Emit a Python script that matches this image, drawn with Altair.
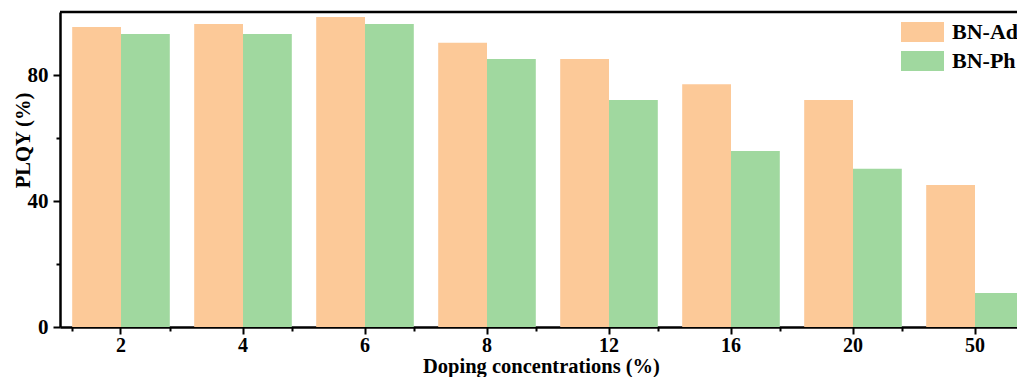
import altair as alt
import pandas as pd

concs = ["2", "4", "6", "8", "12", "16", "20", "50"]
bn_ad = [95.2, 96.2, 98.4, 90.2, 85.1, 77.1, 72.1, 45.1]
bn_ph = [93.0, 93.0, 96.2, 85.1, 72.1, 55.9, 50.2, 10.8]
series = ["BN-Ad", "BN-Ph"]
colors = ["#FCC998", "#A0D89F"]
y_major = [0, 40, 80]
y_minor = [20, 60]

rows = []
for c, a, p in zip(concs, bn_ad, bn_ph):
    rows.append({"conc": c, "series": "BN-Ad", "value": a})
    rows.append({"conc": c, "series": "BN-Ph", "value": p})
df = pd.DataFrame(rows)

W = 957        # visible plot width (page is cut at the right like the reference)
RANGE = 976    # full category range, partly beyond the visible edge
H = 315
FONT = "Liberation Serif"

xscale = alt.Scale(domain=concs, range=[0, RANGE], paddingInner=0.2, paddingOuter=0.1)
yscale = alt.Scale(domain=[0, 100], nice=False)

minor = alt.Chart(df).mark_bar(opacity=0, clip=True).encode(
    x=alt.X("conc:N", sort=concs, scale=xscale,
            axis=alt.Axis(title=None, labels=False, domain=False, tickBand="extent",
                          tickSize=4, orient="bottom")),
    y=alt.Y("value:Q", scale=yscale,
            axis=alt.Axis(title=None, labels=False, domain=False, values=y_minor,
                          tickSize=4, orient="left")),
)

bars = alt.Chart(df).mark_bar(clip=True).encode(
    x=alt.X("conc:N", sort=concs, scale=xscale,
            axis=alt.Axis(title="Doping concentrations (%)", orient="bottom", labelAngle=0,
                          tickSize=7, labelPadding=1, labelFontSize=20,
                          titleBaseline="alphabetic", titleY=45.5, titleX=481)),
    xOffset=alt.XOffset("series:N", sort=series, scale=alt.Scale(paddingInner=0, paddingOuter=0)),
    y=alt.Y("value:Q", scale=yscale,
            axis=alt.Axis(title="PLQY (%)", orient="left", values=y_major, tickSize=7,
                          labelPadding=5, titleX=-27, titleY=128)),
    color=alt.Color("series:N", scale=alt.Scale(domain=series, range=colors),
                    legend=alt.Legend(title=None, orient="none", legendX=851.5, legendY=9,
                                      symbolType="M-2.15,-1L2.15,-1L2.15,1L-2.15,1Z",
                                      symbolSize=400, symbolStrokeWidth=0, symbolOpacity=1,
                                      labelOffset=18.5, rowPadding=7, padding=0,
                                      labelFont=FONT, labelFontSize=22, labelFontWeight="bold",
                                      labelColor="black")),
)

top = alt.Chart(pd.DataFrame({"a": [0]})).mark_rule(color="black", strokeWidth=2.5).encode(
    y=alt.value(0), x=alt.value(0), x2=alt.value(W)
)

chart = alt.layer(minor, bars, top).resolve_axis(x="independent", y="independent").properties(
    width=W, height=H,
    autosize=alt.AutoSizeParams(type="none"),
    padding={"left": 52, "top": 4, "right": 0, "bottom": 50},
).configure_axis(
    labelFont=FONT, labelFontSize=21, labelFontWeight="bold", labelColor="black",
    titleFont=FONT, titleFontSize=20.5, titleFontWeight="bold", titleColor="black",
    domainColor="black", domainWidth=2.5, tickColor="black", tickWidth=2, grid=False,
).configure_view(stroke=None)

chart.save("out.html", embed_options={"renderer": "svg", "actions": False})
